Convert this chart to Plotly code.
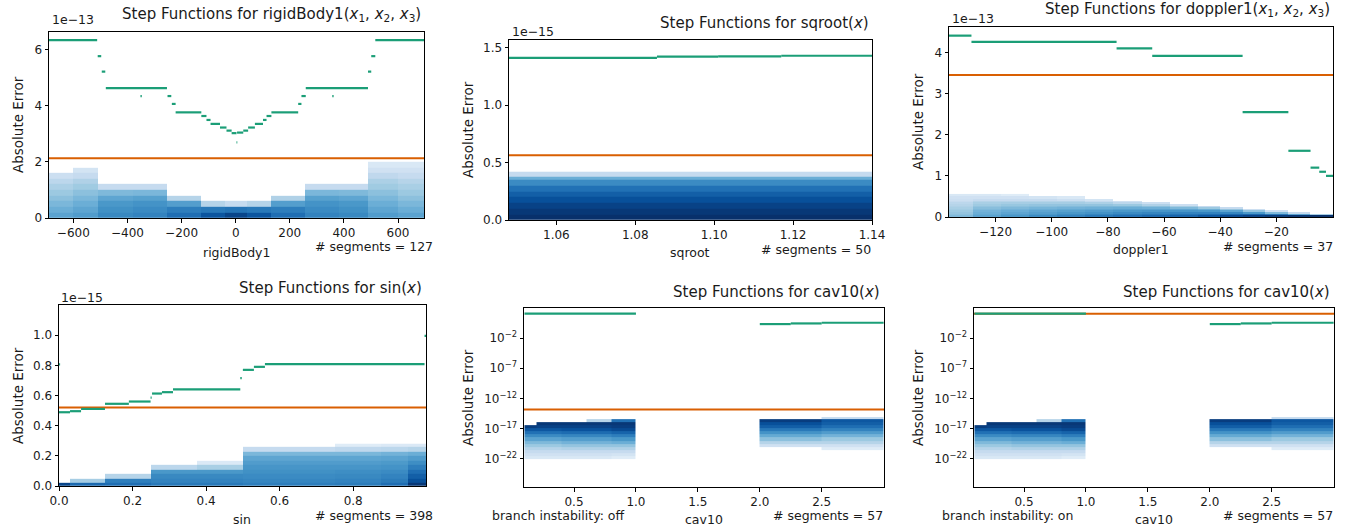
import numpy as np
import plotly.graph_objects as go

W, H = 1353, 531
GREEN = '#1b9e77'
ORANGE = '#d95f02'
FONT = 'DejaVu Sans'
BLUES = [[0, '#f7fbff'], [0.125, '#deebf7'], [0.25, '#c6dbef'], [0.375, '#9ecae1'],
         [0.5, '#6baed6'], [0.625, '#4292c6'], [0.75, '#2171b5'], [0.875, '#08519c'],
         [1, '#08306b']]

# ---------------- Panel 1: rigidBody1 (errors in units of 1e-13) ----------------
rb_xrange = [-690, 696]
rb_yrange = [0, 6.62]
rb_seg_x0 = [-690, -510, -495, -480, -352, -252, -236, -222, -127, -108, -93, -58, -34, -15, 3,
             5, 28, 46, 71, 101, 114, 132, 231, 243, 259, 357, 489, 501, 516]
rb_seg_x1 = [-512, -497, -482, -254, -347, -238, -222, -127, -108, -93, -58, -34, -15, 3, 6,
             28, 46, 71, 101, 114, 132, 231, 243, 259, 489, 362, 501, 516, 696]
rb_seg_y = [6.33, 5.76, 5.21, 4.62, 4.34, 4.34, 4.06, 3.76, 3.63, 3.49, 3.35, 3.22, 3.11, 3.02, 2.69,
            3.04, 3.11, 3.22, 3.35, 3.49, 3.63, 3.76, 4.06, 4.34, 4.62, 4.34, 5.21, 5.76, 6.33]
rb_threshold = 2.13
rb_hist_xedges = [-690, -600, -510, -380, -255, -130, -40, 40, 130, 255, 380, 490, 600, 696]
rb_hist_yedges = [0, 0.2, 0.4, 0.6, 0.8, 1.0, 1.2, 1.4, 1.6, 1.8, 2.0]
rb_hist_cols = [
    [0.55, 0.50, 0.46, 0.42, 0.38, 0.33, 0.28, 0.22, 0, 0],
    [0.58, 0.54, 0.50, 0.46, 0.42, 0.37, 0.32, 0.25, 0.18, 0],
    [0.66, 0.63, 0.60, 0.54, 0.45, 0.25, 0, 0, 0, 0],
    [0.68, 0.65, 0.62, 0.56, 0.46, 0.25, 0, 0, 0, 0],
    [0.76, 0.70, 0.57, 0.30, 0, 0, 0, 0, 0, 0],
    [0.86, 0.72, 0.30, 0, 0, 0, 0, 0, 0, 0],
    [0.92, 0.74, 0.25, 0, 0, 0, 0, 0, 0, 0],
    [0.86, 0.72, 0.30, 0, 0, 0, 0, 0, 0, 0],
    [0.76, 0.70, 0.57, 0.32, 0, 0, 0, 0, 0, 0],
    [0.68, 0.65, 0.62, 0.56, 0.46, 0.25, 0, 0, 0, 0],
    [0.66, 0.63, 0.60, 0.54, 0.45, 0.25, 0, 0, 0, 0],
    [0.58, 0.54, 0.50, 0.46, 0.42, 0.37, 0.33, 0.27, 0.20, 0.15],
    [0.55, 0.50, 0.46, 0.42, 0.38, 0.34, 0.30, 0.25, 0.20, 0.15],
]

# ---------------- Panel 2: sqroot (units of 1e-15) ----------------
sq_xrange = [1.048, 1.14]
sq_yrange = [0, 1.567]
sq_seg_x0 = [1.048, 1.0855, 1.101, 1.117]
sq_seg_x1 = [1.0855, 1.101, 1.117, 1.14]
sq_seg_y = [1.411, 1.422, 1.425, 1.430]
sq_threshold = 0.563
sq_hist_xedges = [1.048, 1.14]
sq_hist_yedges = [0, 0.05, 0.1, 0.15, 0.2, 0.25, 0.3, 0.35, 0.38, 0.42]
sq_hist_cols = [[1.0, 0.97, 0.93, 0.88, 0.82, 0.75, 0.65, 0.5, 0.25]]

# ---------------- Panel 3: doppler1 (units of 1e-13) ----------------
dp_xrange = [-136.6, 0.2]
dp_yrange = [0, 4.62]
dp_seg_x0 = [-136.6, -128.6, -76.9, -64.2, -32.0, -15.7, -7.8, -4.7, -2.3]
dp_seg_x1 = [-128.6, -76.9, -64.2, -32.0, -15.7, -7.8, -4.7, -2.3, 0.2]
dp_seg_y = [4.41, 4.26, 4.10, 3.92, 2.55, 1.61, 1.20, 1.10, 1.00]
dp_threshold = 3.45
dp_hist_xedges = [-136.6, -128, -118, -108, -98, -88, -78, -68, -58, -48, -40, -32, -24, -16, -8, 0.2]
dp_hist_yedges = [0, 0.04, 0.08, 0.12, 0.16, 0.2, 0.24, 0.28, 0.32, 0.36, 0.4, 0.45, 0.5, 0.56]
dp_hist_cols = [
    [0.45, 0.42, 0.40, 0.38, 0.36, 0.34, 0.32, 0.30, 0.28, 0.25, 0.22, 0.20, 0.15],
    [0.55, 0.52, 0.50, 0.48, 0.45, 0.43, 0.40, 0.37, 0.34, 0.30, 0.25, 0.20, 0.15],
    [0.60, 0.57, 0.54, 0.51, 0.48, 0.45, 0.42, 0.39, 0.35, 0.30, 0.25, 0.20, 0.12],
    [0.65, 0.60, 0.57, 0.54, 0.50, 0.47, 0.43, 0.40, 0.35, 0.30, 0.25, 0.18, 0],
    [0.68, 0.64, 0.60, 0.56, 0.52, 0.48, 0.44, 0.40, 0.35, 0.30, 0.22, 0.15, 0],
    [0.72, 0.67, 0.62, 0.58, 0.53, 0.49, 0.45, 0.40, 0.33, 0.25, 0.18, 0, 0],
    [0.75, 0.70, 0.65, 0.60, 0.55, 0.50, 0.45, 0.38, 0.28, 0.20, 0, 0, 0],
    [0.78, 0.72, 0.67, 0.61, 0.55, 0.49, 0.42, 0.32, 0.22, 0, 0, 0, 0],
    [0.80, 0.74, 0.68, 0.61, 0.54, 0.45, 0.35, 0.22, 0, 0, 0, 0, 0],
    [0.85, 0.76, 0.68, 0.60, 0.50, 0.38, 0.25, 0, 0, 0, 0, 0, 0],
    [0.90, 0.78, 0.67, 0.55, 0.40, 0.25, 0, 0, 0, 0, 0, 0, 0],
    [0.93, 0.78, 0.60, 0.40, 0.22, 0, 0, 0, 0, 0, 0, 0, 0],
    [0.96, 0.72, 0.45, 0.20, 0, 0, 0, 0, 0, 0, 0, 0, 0],
    [0.98, 0.55, 0.25, 0, 0, 0, 0, 0, 0, 0, 0, 0, 0],
    [1.00, 0.35, 0, 0, 0, 0, 0, 0, 0, 0, 0, 0, 0],
]

# ---------------- Panel 4: sin (units of 1e-15) ----------------
sn_xrange = [0, 0.998]
sn_yrange = [0, 1.2]
sn_seg_x0 = [0.0, 0.0, 0.03, 0.06, 0.125, 0.19, 0.249, 0.253, 0.28, 0.31, 0.493, 0.5, 0.53, 0.56, 0.994]
sn_seg_x1 = [0.003, 0.03, 0.06, 0.125, 0.19, 0.249, 0.252, 0.28, 0.31, 0.493, 0.497, 0.53, 0.56, 0.994, 0.998]
sn_seg_y = [0.807, 0.489, 0.496, 0.511, 0.545, 0.56, 0.586, 0.613, 0.622, 0.64, 0.715, 0.77, 0.79, 0.808, 0.995]
sn_threshold = 0.52
sn_hist_xedges = [0, 0.03, 0.125, 0.25, 0.375, 0.5, 0.625, 0.75, 0.875, 0.95, 0.998]
sn_hist_yedges = [0, 0.02, 0.05, 0.08, 0.11, 0.14, 0.17, 0.2, 0.23, 0.26, 0.28]
sn_hist_cols = [
    [0.92, 0, 0, 0, 0, 0, 0, 0, 0, 0],
    [0.78, 0.35, 0, 0, 0, 0, 0, 0, 0, 0],
    [0.76, 0.70, 0.30, 0, 0, 0, 0, 0, 0, 0],
    [0.72, 0.68, 0.66, 0.60, 0.28, 0, 0, 0, 0, 0],
    [0.72, 0.68, 0.66, 0.60, 0.34, 0.14, 0, 0, 0, 0],
    [0.70, 0.67, 0.65, 0.63, 0.61, 0.58, 0.54, 0.46, 0.25, 0],
    [0.70, 0.67, 0.65, 0.63, 0.61, 0.58, 0.54, 0.46, 0.25, 0],
    [0.71, 0.68, 0.66, 0.64, 0.61, 0.58, 0.54, 0.46, 0.27, 0.12],
    [0.76, 0.71, 0.68, 0.65, 0.62, 0.59, 0.55, 0.48, 0.28, 0.14],
    [0.97, 0.88, 0.82, 0.76, 0.70, 0.64, 0.58, 0.50, 0.30, 0.14],
]

# ---------------- Panels 5/6: cav10 (log axis) ----------------
cv_xrange = [0.096, 3.003]
cv_ylog_range = [-26.7, 3.0]
cv_seg_x0 = [0.1, 2.0, 2.25, 2.5]
cv_seg_x1 = [1.0, 2.25, 2.5, 3.0]
cv_seg_y = [115.0, 2.15, 2.75, 3.6]
cv_threshold_off = 1.5e-14
cv_threshold_on = 115.0
cv_hist_xedges = [0.1, 0.2, 0.4, 0.6, 0.8, 1.0, 2.0, 2.5, 3.0]
cv_hist_yexp_edges = [-22, -21.5, -21, -20.5, -20, -19.5, -19, -18.5, -18, -17.5, -17, -16.5, -16, -15.4, -15.1]
cv_hist_cols = [
    [0.15, 0.20, 0.25, 0.30, 0.38, 0.45, 0.55, 0.65, 0.75, 0.85, 0.95, 0, 0, 0],
    [0.15, 0.20, 0.25, 0.30, 0.38, 0.45, 0.55, 0.65, 0.75, 0.85, 0.93, 0.97, 0, 0],
    [0.15, 0.20, 0.25, 0.32, 0.40, 0.48, 0.57, 0.67, 0.77, 0.87, 0.93, 0.97, 0, 0],
    [0.15, 0.20, 0.25, 0.32, 0.40, 0.48, 0.57, 0.67, 0.77, 0.87, 0.93, 0.97, 0.30, 0],
    [0.12, 0.18, 0.25, 0.32, 0.40, 0.50, 0.60, 0.70, 0.80, 0.90, 0.95, 0.97, 0.75, 0],
    [0, 0, 0, 0, 0, 0, 0, 0, 0, 0, 0, 0, 0, 0],
    [0, 0, 0, 0, 0.20, 0.30, 0.42, 0.52, 0.62, 0.72, 0.82, 0.88, 0.95, 0],
    [0, 0, 0, 0.12, 0.20, 0.30, 0.38, 0.48, 0.58, 0.68, 0.76, 0.82, 0.85, 0.25],
]

# axes boxes in pixels: left, top, right, bottom
boxes = [(49, 32, 424, 218), (509, 40, 872, 220), (949, 27, 1333, 217),
         (59, 305, 426, 486), (524, 308, 884, 487), (974, 308, 1334, 487)]


def fx(p):
    return p / W


def fy(p):
    return 1 - p / H


def z_from_cols(cols):
    arr = np.array(cols, dtype=float).T
    arr[arr == 0] = np.nan
    return arr


def steps(x0, x1, y):
    xs, ys = [], []
    for a, b, v in zip(x0, x1, y):
        xs += [a, b, None]
        ys += [v, v, None]
    return xs, ys


fig = go.Figure()


def add_panel(i, xedges, yedges, cols, sx0, sx1, sy, thr, xr):
    xa = 'x' if i == 1 else f'x{i}'
    ya = 'y' if i == 1 else f'y{i}'
    fig.add_trace(go.Heatmap(x=xedges, y=yedges, z=z_from_cols(cols), colorscale=BLUES,
                             zmin=0, zmax=1, showscale=False, xaxis=xa, yaxis=ya,
                             hoverinfo='skip'))
    fig.add_trace(go.Scatter(x=[xr[0], xr[1]], y=[thr, thr], mode='lines',
                             line=dict(color=ORANGE, width=2), xaxis=xa, yaxis=ya,
                             showlegend=False))
    gx, gy = steps(sx0, sx1, sy)
    fig.add_trace(go.Scatter(x=gx, y=gy, mode='lines', line=dict(color=GREEN, width=2.2),
                             xaxis=xa, yaxis=ya, showlegend=False, connectgaps=False))


add_panel(1, rb_hist_xedges, rb_hist_yedges, rb_hist_cols, rb_seg_x0, rb_seg_x1, rb_seg_y,
          rb_threshold, rb_xrange)
add_panel(2, sq_hist_xedges, sq_hist_yedges, sq_hist_cols, sq_seg_x0, sq_seg_x1, sq_seg_y,
          sq_threshold, sq_xrange)
add_panel(3, dp_hist_xedges, dp_hist_yedges, dp_hist_cols, dp_seg_x0, dp_seg_x1, dp_seg_y,
          dp_threshold, dp_xrange)
add_panel(4, sn_hist_xedges, sn_hist_yedges, sn_hist_cols, sn_seg_x0, sn_seg_x1, sn_seg_y,
          sn_threshold, sn_xrange)
cv_yedges = list(np.power(10.0, cv_hist_yexp_edges))
add_panel(5, cv_hist_xedges, cv_yedges, cv_hist_cols, cv_seg_x0, cv_seg_x1, cv_seg_y,
          cv_threshold_off, cv_xrange)
add_panel(6, cv_hist_xedges, cv_yedges, cv_hist_cols, cv_seg_x0, cv_seg_x1, cv_seg_y,
          cv_threshold_on, cv_xrange)

ax_style = dict(showline=True, mirror=True, linecolor='black', linewidth=1, ticks='outside',
                ticklen=3.5, tickwidth=1, tickcolor='black', showgrid=False, zeroline=False,
                automargin=False,
                tickfont=dict(family=FONT, size=12, color='#1a1a1a'))

x_ticks = [
    ([-600, -400, -200, 0, 200, 400, 600], ['−600', '−400', '−200', '0', '200', '400', '600']),
    ([1.06, 1.08, 1.10, 1.12, 1.14], ['1.06', '1.08', '1.10', '1.12', '1.14']),
    ([-120, -100, -80, -60, -40, -20], ['−120', '−100', '−80', '−60', '−40', '−20']),
    ([0, 0.2, 0.4, 0.6, 0.8], ['0.0', '0.2', '0.4', '0.6', '0.8']),
    ([0.5, 1.0, 1.5, 2.0, 2.5], ['0.5', '1.0', '1.5', '2.0', '2.5']),
    ([0.5, 1.0, 1.5, 2.0, 2.5], ['0.5', '1.0', '1.5', '2.0', '2.5']),
]
log_exps = [-22, -17, -12, -7, -2]
y_ticks = [
    ([0, 2, 4, 6], ['0', '2', '4', '6']),
    ([0, 0.5, 1.0, 1.5], ['0.0', '0.5', '1.0', '1.5']),
    ([0, 1, 2, 3, 4], ['0', '1', '2', '3', '4']),
    ([0, 0.2, 0.4, 0.6, 0.8, 1.0], ['0.0', '0.2', '0.4', '0.6', '0.8', '1.0']),
    ([10.0 ** e for e in log_exps], [f'10<sup>−{-e}</sup>' for e in log_exps]),
    ([10.0 ** e for e in log_exps], [f'10<sup>−{-e}</sup>' for e in log_exps]),
]
x_ranges = [rb_xrange, sq_xrange, dp_xrange, sn_xrange, cv_xrange, cv_xrange]
y_ranges = [rb_yrange, sq_yrange, dp_yrange, sn_yrange, cv_ylog_range, cv_ylog_range]

layout = dict(width=W, height=H, margin=dict(l=0, r=0, t=0, b=0, autoexpand=False),
              paper_bgcolor='white', plot_bgcolor='white', showlegend=False,
              font=dict(family=FONT, color='#1a1a1a'))
for i, (l, t, r, b) in enumerate(boxes, start=1):
    xk = 'xaxis' if i == 1 else f'xaxis{i}'
    yk = 'yaxis' if i == 1 else f'yaxis{i}'
    ya = 'y' if i == 1 else f'y{i}'
    xa = 'x' if i == 1 else f'x{i}'
    layout[xk] = dict(domain=[fx(l), fx(r)], anchor=ya, range=x_ranges[i - 1],
                      tickmode='array', tickvals=x_ticks[i - 1][0],
                      ticktext=x_ticks[i - 1][1], **ax_style)
    yd = dict(domain=[fy(b), fy(t)], anchor=xa, range=y_ranges[i - 1],
              tickmode='array', tickvals=y_ticks[i - 1][0], ticktext=y_ticks[i - 1][1],
              **ax_style)
    if i >= 5:
        yd['type'] = 'log'
    layout[yk] = yd
fig.update_layout(**layout)

ann = []


def text(x, y, s, size=12.5, xanchor='center', angle=0):
    ann.append(dict(x=fx(x), y=fy(y), xref='paper', yref='paper', text=s, showarrow=False,
                    xanchor=xanchor, yanchor='middle', textangle=angle,
                    font=dict(family=FONT, size=size, color='#1a1a1a')))


xsub = '<i>x</i><sub>1</sub>, <i>x</i><sub>2</sub>, <i>x</i><sub>3</sub>'
titles = [(423, 15, f'Step Functions for rigidBody1({xsub})'),
          (871, 23, 'Step Functions for sqroot(<i>x</i>)'),
          (1332, 10, f'Step Functions for doppler1({xsub})'),
          (424, 288, 'Step Functions for sin(<i>x</i>)'),
          (882, 292, 'Step Functions for cav10(<i>x</i>)'),
          (1332, 292, 'Step Functions for cav10(<i>x</i>)')]
for x, y, s in titles:
    text(x, y, s, size=15, xanchor='right')

for x, y, s in [(50, 20, '1e−13'), (510, 32, '1e−15'), (950, 18, '1e−13'), (59, 297, '1e−15')]:
    text(x, y, s, size=12.5, xanchor='left')

for x, y, s in [(236, 252, 'rigidBody1'), (690, 252, 'sqroot'), (1141, 249, 'doppler1'),
                (242, 519, 'sin'), (704, 519, 'cav10'), (1154, 519, 'cav10')]:
    text(x, y, s)

for x, y, s in [(435, 247, '# segments = 127'), (873, 249, '# segments = 50'),
                (1335, 247, '# segments = 37'), (435, 515, '# segments = 398'),
                (885, 515, '# segments = 57'), (1335, 515, '# segments = 57')]:
    text(x, y, s, xanchor='right')

text(490, 515, 'branch instability: off', xanchor='left')
text(940, 515, 'branch instability: on', xanchor='left')

for x, y in [(18, 125), (468, 130), (918, 122), (18, 396), (468, 398), (918, 398)]:
    text(x, y, 'Absolute Error', size=13.5, angle=-90)

fig.update_layout(annotations=ann)
fig.write_html('out.html', config={'displayModeBar': False},
               post_script="document.body.style.margin='0';document.body.style.overflow='hidden';")
